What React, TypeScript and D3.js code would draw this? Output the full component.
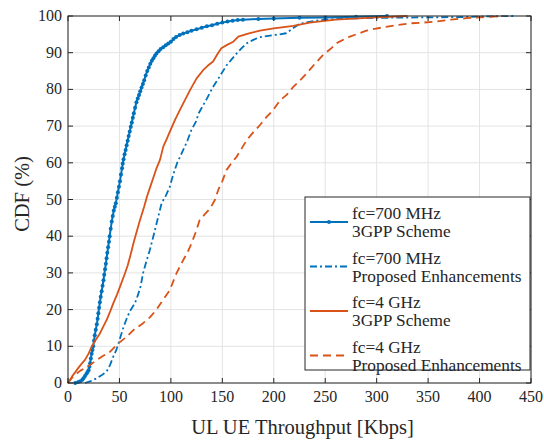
import React from "react";
import * as d3 from "d3";

// 700 MHz, 3GPP scheme
const b1X = [7, 10, 12, 14, 15, 16.5, 18, 19, 20, 20.8, 21.5, 22.2, 23, 23.8, 24.5, 25.3, 26, 27, 28, 28.8, 29.5, 30.2, 31, 31.8, 32.7, 33.6, 34.5, 35.2, 36, 36.8, 37.5, 38.2, 39, 39.8, 40.5, 41.5, 42.5, 43.5, 44.5, 45.5, 46.5, 47.5, 48.5, 49.5, 50.5, 51.5, 52.5, 53.2, 54, 55, 56, 57, 58, 59, 60, 61, 62, 63, 64, 65.2, 66.5, 67.8, 69, 70.2, 71.5, 72.8, 74, 75.5, 77, 78.5, 80, 81.5, 83, 84.5, 86, 88, 90, 92.5, 95, 97.5, 100, 102.5, 105, 108.5, 112, 116, 120, 125, 130, 135, 140, 145, 150, 155, 160, 165, 170, 185, 200, 225, 250, 280, 310];
const b1Y = [0, 0.3, 0.5, 0.9, 1.3, 1.9, 2.5, 3, 3.5, 4.4, 5.4, 6.7, 8, 9, 10, 11.5, 13, 14.5, 16, 17.5, 19, 20.5, 22, 23.5, 25, 26.5, 28, 29.5, 31, 32.5, 34, 35.5, 37, 38.5, 40, 42, 44, 45.5, 47, 48, 49, 50.5, 52, 53.5, 55, 56.8, 58.5, 59.8, 61, 62.3, 63.5, 64.8, 66, 67.3, 68.5, 69.8, 71, 72.3, 73.5, 75, 76.5, 77.5, 78.5, 79.5, 80.5, 81.5, 82.5, 83.8, 85, 86, 87, 87.8, 88.5, 89.2, 89.8, 90.4, 91, 91.5, 92, 92.5, 93, 93.7, 94.3, 94.8, 95.2, 95.6, 96, 96.4, 96.8, 97.2, 97.5, 97.9, 98.2, 98.5, 98.7, 98.9, 99, 99.2, 99.3, 99.5, 99.6, 99.8, 100];

// 700 MHz, proposed enhancements
const b2X = [16.5, 22, 28, 33, 37.5, 41, 44, 47, 49, 51.5, 54, 57, 60, 65, 68, 70.5, 73, 76, 79.5, 83, 87, 91, 95, 99, 102.5, 106, 109, 112, 116, 120, 124, 127, 131, 135, 140, 144, 148, 154, 159, 164, 169, 174, 180, 186, 193, 200, 206, 212, 218, 224, 230, 240, 250, 270, 300, 340, 380, 410, 433];
const b2Y = [0, 0.5, 1.3, 2.2, 3.1, 5, 7.2, 9, 10.8, 13, 15.3, 17.5, 19.5, 21.7, 24, 26.2, 30, 33, 36.2, 40, 44.5, 49, 51, 53.5, 57, 59.9, 61.7, 63.5, 66, 69, 71, 73.5, 75.5, 77.5, 80.2, 82, 83.8, 86.5, 88.2, 89.8, 91.3, 92.6, 93.5, 94.2, 94.5, 94.8, 95, 95.3, 96.5, 97.7, 98.2, 98.7, 99, 99.3, 99.5, 99.6, 99.7, 99.9, 100];

// 4 GHz, 3GPP scheme
const o1X = [0, 4, 8.4, 12.5, 16.5, 20, 23, 27, 31, 34.5, 37.6, 41, 44, 47.5, 50.5, 55.4, 58, 60.3, 64, 67, 70, 74, 77, 80, 83, 86, 89.4, 92.6, 96, 99, 104, 108.8, 112, 118.6, 125, 131.5, 136, 141, 145, 149, 155, 160.7, 165.5, 175, 186.6, 200, 219, 235, 260, 300, 330];
const o1Y = [0, 1.8, 3.5, 5, 6.3, 8, 9.9, 11.8, 13.5, 15.5, 17.2, 19.5, 21.7, 24, 26.2, 29.9, 32, 34.4, 38.5, 41.5, 44.4, 48, 51, 53.5, 56, 58.5, 60.8, 64.4, 66.5, 68.5, 71.7, 74.4, 76.2, 79.8, 83, 85.3, 86.5, 87.6, 89.5, 91.2, 92.2, 93, 94.4, 95.2, 96, 96.6, 97.3, 98.2, 99, 99.6, 100];

// 4 GHz, proposed enhancements
const o2X = [0, 5, 11.7, 17, 23, 28, 34.3, 40.8, 45.7, 49, 57, 63.5, 73, 80, 86, 92, 99, 102, 105.6, 112, 116, 120, 124, 128, 133, 138, 143, 146, 150, 154, 159, 164, 169, 173.7, 180, 186.6, 193, 199.5, 206, 212.5, 219, 226, 232, 240, 248, 255, 261, 268, 274, 282, 290, 298, 306, 320, 332, 345, 358, 372, 387, 405, 423];
const o2Y = [0, 1.8, 3.3, 4.2, 5.2, 6.3, 7.4, 8.5, 9.9, 10.8, 12.6, 14.4, 16.3, 18, 20, 22.5, 25.3, 27.5, 30, 33.5, 35.5, 38, 41, 44.4, 46, 47.5, 50, 52.6, 55, 58, 60, 61.7, 64, 66.2, 68.3, 70.3, 72.5, 74.4, 77, 78.5, 80.7, 82.6, 84.4, 87, 89.4, 91, 92.6, 93.6, 94.4, 95.2, 96, 96.5, 96.9, 97.5, 98, 98.2, 98.5, 99, 99.4, 99.7, 100];

const xTicks = [0, 50, 100, 150, 200, 250, 300, 350, 400, 450];
const yTicks = [0, 10, 20, 30, 40, 50, 60, 70, 80, 90, 100];
const legendLines = [
  ["fc=700 MHz", "3GPP Scheme"],
  ["fc=700 MHz", "Proposed Enhancements"],
  ["fc=4 GHz", "3GPP Scheme"],
  ["fc=4 GHz", "Proposed Enhancements"],
];

const BLUE = "#0072BD";
const ORANGE = "#D95319";
const FONT = "'Liberation Serif', 'Times New Roman', serif";

export default function App() {
  const L = 68, R = 531, T = 16, B = 383;
  const x = d3.scaleLinear().domain([0, 450]).range([L, R]);
  const y = d3.scaleLinear().domain([0, 100]).range([B, T]);
  const line = d3.line<[number, number]>().x((d) => x(d[0])).y((d) => y(d[1]));
  const zip = (a: number[], b: number[]) => a.map((v, i) => [v, b[i]] as [number, number]);

  const series = [
    { pts: zip(b1X, b1Y), color: BLUE, dash: "", width: 2, markers: true },
    { pts: zip(b2X, b2Y), color: BLUE, dash: "7,3,2,3", width: 1.8, markers: false },
    { pts: zip(o1X, o1Y), color: ORANGE, dash: "", width: 1.8, markers: false },
    { pts: zip(o2X, o2Y), color: ORANGE, dash: "8,5", width: 1.8, markers: false },
  ];

  const axisColor = "#262626";
  const gridColor = "#e3e3e3";
  const legX = 305, legY = 197, legW = 225, legH = 173;
  const entryCY = [222, 266.5, 311, 355.5];

  return (
    <svg width={544} height={440} style={{ position: "absolute", left: 0, top: 0, background: "#fff" }}>
      <rect x={0} y={0} width={544} height={440} fill="#fff" />
      {xTicks.map((t) => (
        <line key={"gx" + t} x1={x(t)} x2={x(t)} y1={T} y2={B} stroke={gridColor} strokeWidth={1} />
      ))}
      {yTicks.map((t) => (
        <line key={"gy" + t} x1={L} x2={R} y1={y(t)} y2={y(t)} stroke={gridColor} strokeWidth={1} />
      ))}
      <g>
        {series.map((s, i) => (
          <g key={"s" + i}>
            <path d={line(s.pts) || ""} fill="none" stroke={s.color} strokeWidth={s.width} strokeDasharray={s.dash || undefined} strokeLinejoin="round" />
            {s.markers &&
              s.pts.map((p, j) => <circle key={j} cx={x(p[0])} cy={y(p[1])} r={2} fill={s.color} />)}
          </g>
        ))}
      </g>
      <rect x={L} y={T} width={R - L} height={B - T} fill="none" stroke={axisColor} strokeWidth={1} />
      {xTicks.map((t) => (
        <g key={"tx" + t}>
          <line x1={x(t)} x2={x(t)} y1={B} y2={B - 5} stroke={axisColor} />
          <line x1={x(t)} x2={x(t)} y1={T} y2={T + 5} stroke={axisColor} />
          <text x={x(t)} y={B + 19} textAnchor="middle" fontFamily={FONT} fontSize={16} fill={axisColor}>
            {t}
          </text>
        </g>
      ))}
      {yTicks.map((t) => (
        <g key={"ty" + t}>
          <line x1={L} x2={L + 5} y1={y(t)} y2={y(t)} stroke={axisColor} />
          <line x1={R} x2={R - 5} y1={y(t)} y2={y(t)} stroke={axisColor} />
          <text x={L - 6} y={y(t) + 5} textAnchor="end" fontFamily={FONT} fontSize={16} fill={axisColor}>
            {t}
          </text>
        </g>
      ))}
      <text x={(L + R) / 2 + 3} y={434} textAnchor="middle" fontFamily={FONT} fontSize={20.5} fill={axisColor}>
        UL UE Throughput [Kbps]
      </text>
      <text transform={`translate(29, 194) rotate(-90)`} textAnchor="middle" fontFamily={FONT} fontSize={20.5} fill={axisColor}>
        CDF (%)
      </text>
      <rect x={legX} y={legY} width={legW} height={legH} fill="#fff" stroke={axisColor} strokeWidth={1} />
      {series.map((s, i) => (
        <g key={"lg" + i}>
          <line x1={310} x2={348} y1={entryCY[i]} y2={entryCY[i]} stroke={s.color} strokeWidth={s.width} strokeDasharray={s.dash || undefined} />
          {s.markers && <circle cx={329} cy={entryCY[i]} r={2} fill={s.color} />}
          <text x={352} y={entryCY[i] - 3} fontFamily={FONT} fontSize={17.3} fill={axisColor}>
            {legendLines[i][0]}
          </text>
          <text x={352} y={entryCY[i] + 15} fontFamily={FONT} fontSize={17.3} fill={axisColor}>
            {legendLines[i][1]}
          </text>
        </g>
      ))}
    </svg>
  );
}
